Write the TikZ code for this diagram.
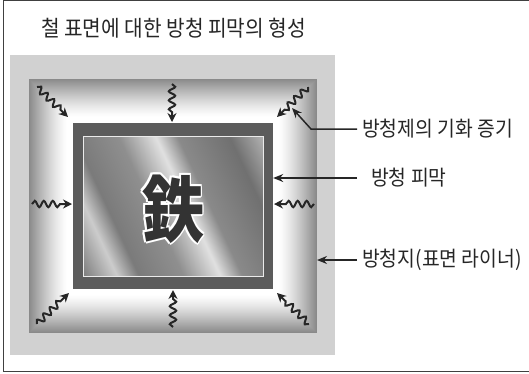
\documentclass[tikz,border=0pt]{standalone}
\usepackage{fontspec}
\setmainfont{Noto Sans CJK KR}[FakeStretch=0.92]
\newfontfamily\kanjifont{Noto Sans CJK JP}[FakeStretch=0.86]
\usetikzlibrary{arrows.meta,decorations.pathmorphing}

% metallic streaks on the iron plate
\pgfdeclarehorizontalshading{ironsheen}{100bp}{%
  color(0bp)=(black!70); color(16bp)=(black!54); color(26bp)=(black!20);
  color(32bp)=(black!52); color(44bp)=(black!44); color(54bp)=(black!12);
  color(60bp)=(black!46); color(74bp)=(black!56); color(84bp)=(black!28);
  color(90bp)=(black!58); color(100bp)=(black!70)}

\tikzset{
  caption/.style={font=\fontsize{21}{24}\selectfont, inner sep=0pt, anchor=west, text=black!85},
  vapour/.style={decorate, decoration={snake, amplitude=3.2pt, segment length=9pt, post length=8pt},
    line width=2pt, black!85, -{Stealth[length=9pt,width=9pt]}},
  pointer/.style={line width=1.5pt, black!85, -{Stealth[length=10pt,width=8pt]}},
  kanji/.style={font=\kanjifont\bfseries\fontsize{72}{72}\selectfont, inner sep=0pt},
}

\begin{document}
\begin{tikzpicture}[x=1pt,y=-1pt]
  \useasboundingbox (0,0) rectangle (529,373);

  % frame around the figure
  \draw[line width=1.3pt, black!75] (529,0.7) -- (3.6,0.7) -- (3.6,371.3) -- (529,371.3);

  \node[caption, font=\fontsize{22}{26}\selectfont] (title) at (41,28) {철 표면에 대한 방청 피막의 형성};

  % rust-preventive paper (liner)
  \fill[black!18] (10,55) rectangle (335,355);
  \coordinate (band-ne) at (317,78);

  % vapour glow between liner and film
  \foreach \d in {44,43,...,0}{
    \pgfmathsetmacro\p{46*(max(0,(\d-6)/38))^1.3}
    \fill[black!\p] (73-\d,123-\d) rectangle (273+\d,289+\d);
  }

  % protective film and iron plate
  \node[fill=black!64, minimum width=200pt, minimum height=166pt, inner sep=0pt] (film) at (173,206) {};
  \node[shading=ironsheen, shading angle=25, draw=black!8, line width=0.8pt,
    minimum width=180pt, minimum height=140pt, inner sep=0pt] (plate) at (film.center) {};

  % outlined character
  \foreach \a in {0,45,...,315}
    \node[kanji, text=white, shift={(\a:1.8pt)}] (glow\a) at ([yshift=-3pt]plate.center) {鉄};
  \node[kanji, text=black!80] (iron) at ([yshift=-3pt]plate.center) {鉄};

  % vapour arrows towards the plate
  \foreach \name/\sx/\sy/\ex/\ey in {tl/37/87/68/117, t/172/84/172/122, tr/308/87/277/117,
      l/32/204/72/204, r/314/204/274/204, bl/37/324/69/293, b/173/327/173/290, br/309/324/277/293}{
    \coordinate (\name-a) at (\sx,\sy);
    \coordinate (\name-b) at (\ex,\ey);
    \draw[vapour] (\name-a) -- (\name-b);
  }

  % labels
  \node[caption] (vapourlabel) at (362,129) {방청제의 기화 증기};
  \node[caption] (filmlabel) at (371,178) {방청 피막};
  \node[caption] (linerlabel) at (362,260) {방청지(표면 라이너)};

  \coordinate (vapourtip) at (292,108);
  \draw[pointer] ([xshift=-5pt]vapourlabel.west) -- ++(-46,0) -- (vapourtip);
  \draw[pointer] ([xshift=-14pt]filmlabel.west) -- (film.east |- filmlabel.west);
  \draw[pointer] ([xshift=-5pt]linerlabel.west) -- (band-ne |- linerlabel.west);
\end{tikzpicture}
\end{document}
